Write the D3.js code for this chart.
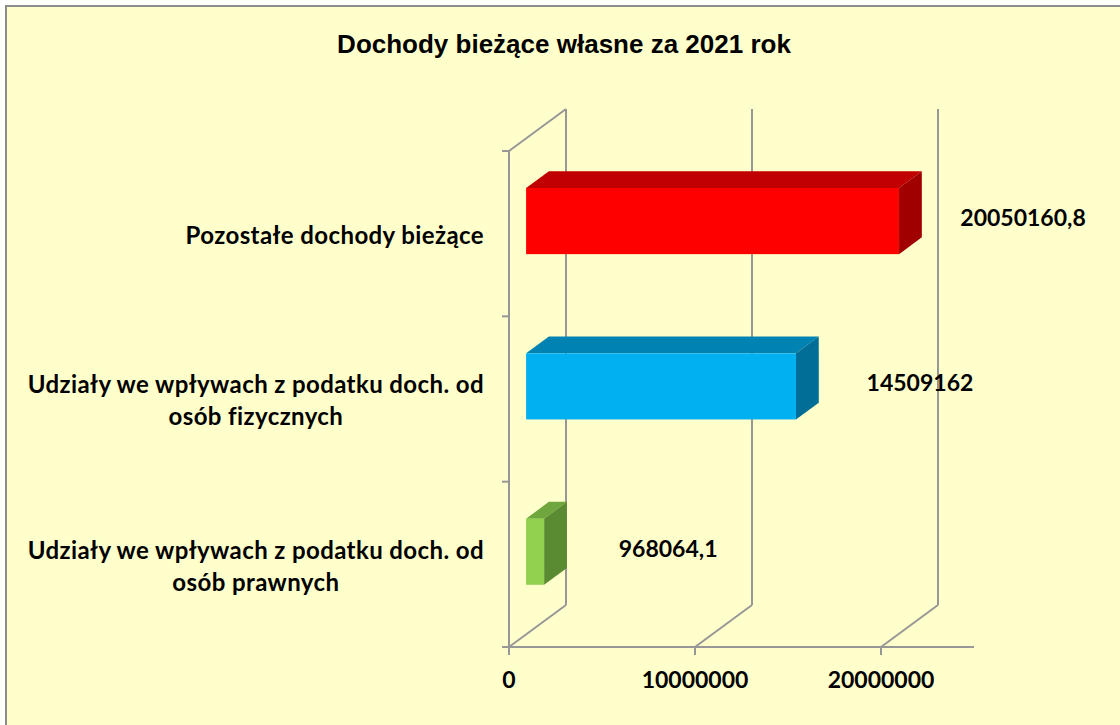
<!DOCTYPE html>
<html>
<head>
<meta charset="utf-8">
<script src="https://cdn.jsdelivr.net/npm/d3@7"></script>
<style>
  body { margin: 0; background: #fff; }
  svg text { font-family: Lato, "Open Sans", sans-serif; font-weight: bold; fill: #000; }
</style>
</head>
<body>
<svg id="chart" width="1120" height="725"></svg>
<script>
// Dochody bieżące własne -- 3D bar chart

var title = "Dochody bieżące własne za 2021 rok";
var categories = [
  "Pozostałe dochody bieżące",
  "Udziały we wpływach z podatku doch. od osób fizycznych",
  "Udziały we wpływach z podatku doch. od osób prawnych"
];
var values = [20050160.8, 14509162, 968064.1];
var tickValues = [0, 10000000, 20000000];
var frontColors = ["#ff0000", "#00b0f0", "#92d050"];
var topColors = ["#c00000", "#0083b3", "#6fa63d"];
var sideColors = ["#a00000", "#006e96", "#5a8a31"];

var svg = d3.select("#chart");

// background + border
svg.append("rect").attr("x", 6).attr("y", 6).attr("width", 1120).attr("height", 725)
  .attr("fill", "#ffffcc").attr("stroke", "#8c8c8c").attr("stroke-width", 2);

svg.append("text").attr("x", 564).attr("y", 53).attr("text-anchor", "middle")
  .style("font-family", "'Liberation Sans', Arial, sans-serif").style("font-size", "26px")
  .text(title);

// plot geometry (front plane) and depth offset
var x = d3.scaleLinear().domain([0, 25000000]).range([509, 974]);
var y = d3.scaleBand().domain(categories).range([151, 647]).paddingInner(0.6).paddingOuter(0.3);
var depthX = 57, depthY = -42;
var z0 = 0.3, z1 = 0.7;
var grid = "#979797";
var top0 = 151, bottom0 = 647;

var g = svg.append("g");

// back wall gridlines
g.selectAll(".grid").data(tickValues).enter().append("line")
  .attr("x1", function (d) { return x(d) + depthX; })
  .attr("x2", function (d) { return x(d) + depthX; })
  .attr("y1", top0 + depthY).attr("y2", bottom0 + depthY)
  .attr("stroke", grid).attr("stroke-width", 2);

// floor diagonals
g.selectAll(".floor").data(tickValues).enter().append("line")
  .attr("x1", function (d) { return x(d); })
  .attr("y1", bottom0)
  .attr("x2", function (d) { return x(d) + depthX; })
  .attr("y2", bottom0 + depthY)
  .attr("stroke", grid).attr("stroke-width", 2);

// side wall
g.append("line").attr("x1", x(0)).attr("x2", x(0)).attr("y1", top0).attr("y2", bottom0)
  .attr("stroke", grid).attr("stroke-width", 2);
g.append("line").attr("x1", x(0)).attr("y1", top0).attr("x2", x(0) + depthX).attr("y2", top0 + depthY)
  .attr("stroke", grid).attr("stroke-width", 2);

// front floor axis
g.append("line").attr("x1", x(0)).attr("x2", x.range()[1]).attr("y1", bottom0).attr("y2", bottom0)
  .attr("stroke", grid).attr("stroke-width", 2);
g.selectAll(".xt").data(tickValues).enter().append("line")
  .attr("x1", function (d) { return x(d); }).attr("x2", function (d) { return x(d); })
  .attr("y1", bottom0).attr("y2", bottom0 + 8)
  .attr("stroke", grid).attr("stroke-width", 2);

// category ticks
var catTicks = [top0].concat(categories.map(function (c) { return y(c) - y.step() * y.paddingInner() / 2 + y.step(); }));
g.selectAll(".yt").data(catTicks).enter().append("line")
  .attr("x1", x(0) - 7).attr("x2", x(0)).attr("y1", function (d) { return d; }).attr("y2", function (d) { return d; })
  .attr("stroke", grid).attr("stroke-width", 2);

// tick labels
g.selectAll(".xl").data(tickValues).enter().append("text")
  .attr("x", function (d) { return x(d); }).attr("y", 688)
  .attr("text-anchor", "middle").style("font-size", "23px")
  .text(function (d) { return d; });

// bars
var bars = g.selectAll(".bar").data(values).enter().append("g");
bars.each(function (v, i) {
  var b = d3.select(this);
  var xf0 = x(0) + depthX * z0, xf1 = x(v) + depthX * z0;
  var yf0 = y(categories[i]) + depthY * z0, yf1 = yf0 + y.bandwidth();
  var dx = depthX * (z1 - z0), dy = depthY * (z1 - z0);
  b.append("path")
    .attr("d", "M" + xf0 + "," + yf0 + "L" + (xf0 + dx) + "," + (yf0 + dy) + "L" + (xf1 + dx) + "," + (yf0 + dy) + "L" + xf1 + "," + yf0 + "Z")
    .attr("fill", topColors[i]);
  b.append("path")
    .attr("d", "M" + xf1 + "," + yf0 + "L" + (xf1 + dx) + "," + (yf0 + dy) + "L" + (xf1 + dx) + "," + (yf1 + dy) + "L" + xf1 + "," + yf1 + "Z")
    .attr("fill", sideColors[i]);
  b.append("rect").attr("x", xf0).attr("y", yf0).attr("width", xf1 - xf0).attr("height", yf1 - yf0)
    .attr("fill", frontColors[i]);
  b.append("text")
    .attr("x", xf1 + 124).attr("y", (yf0 + yf1) / 2 - 3)
    .attr("dy", "0.35em").attr("text-anchor", "middle").style("font-size", "23px")
    .text(String(v).replace(".", ","));
});

// category labels, wrapped and centred in a right-aligned block
var labelRight = 484, lineH = 32;
categories.forEach(function (c) {
  var t = g.append("text").style("font-size", "24px").style("letter-spacing", "0.4px")
    .attr("text-anchor", "middle");
  var words = c.split(" "), lines = [], cur = "";
  var probe = g.append("text").style("font-size", "24px").style("letter-spacing", "0.4px");
  words.forEach(function (w) {
    var test = cur ? cur + " " + w : w;
    probe.text(test);
    if (probe.node().getComputedTextLength() > 480 && cur) {
      lines.push(cur);
      cur = w;
    } else {
      cur = test;
    }
  });
  lines.push(cur);
  var maxW = d3.max(lines, function (l) { probe.text(l); return probe.node().getComputedTextLength(); });
  probe.remove();
  var cy = y(c) + y.bandwidth() / 2 + 2;
  lines.forEach(function (l, k) {
    t.append("tspan").attr("x", labelRight - maxW / 2)
      .attr("y", cy + (k - (lines.length - 1) / 2) * lineH)
      .attr("dy", "0.35em").text(l);
  });
});
</script>
</body>
</html>
